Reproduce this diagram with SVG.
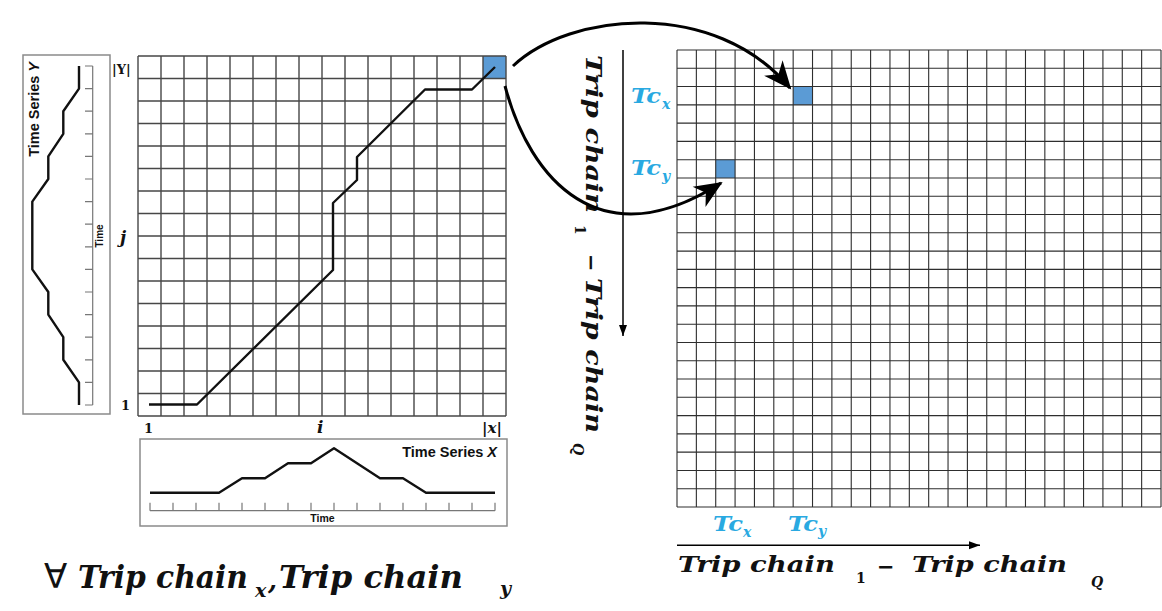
<svg xmlns="http://www.w3.org/2000/svg" width="1162" height="611" viewBox="0 0 1162 611">
<style>
.box{fill:none;stroke:#8a8a8a;stroke-width:1.5}
.ax{fill:none;stroke:#777;stroke-width:1.2}
.curve{fill:none;stroke:#111;stroke-width:2.4;stroke-linejoin:round}
.lg{fill:none;stroke:#474747;stroke-width:1.4}
.rg{fill:none;stroke:#2e2e2e;stroke-width:1.1}
.cell{fill:#5b9bd5}
.sans{font-family:"Liberation Sans",Arial,sans-serif;font-weight:bold;fill:#111}
.ser{font-family:"DejaVu Serif","Liberation Serif",serif;font-weight:bold;font-style:italic;fill:#111}
.num{font-family:"DejaVu Serif","Liberation Serif",serif;font-weight:bold;fill:#111}
.tc{font-family:"DejaVu Serif","Liberation Serif",serif;font-weight:bold;font-style:italic;fill:#29a9e1}
.big{fill:none;stroke:#000;stroke-width:3}
.thin{fill:none;stroke:#000;stroke-width:1.5}
</style>
<defs>
<marker id="bigHead" markerUnits="userSpaceOnUse" markerWidth="30" markerHeight="26" refX="26" refY="13" orient="auto">
<path d="M0,1 L28,13 L0,25 L8,13 Z" fill="#000"/>
</marker>
<marker id="thinHead" markerUnits="userSpaceOnUse" markerWidth="12" markerHeight="10" refX="11" refY="5" orient="auto">
<path d="M0,1 L11,5 L0,9 Z" fill="#000"/>
</marker>
</defs>
<rect width="1162" height="611" fill="#fff"/>

<g id="time-series-y">
<rect class="box" x="23" y="55" width="87" height="359"/>
<path class="ax" d="M92.7,66 V405 M85,66 H92.7 M85,88.6 H92.7 M85,111.2 H92.7 M85,133.8 H92.7 M85,156.4 H92.7 M85,179 H92.7 M85,201.6 H92.7 M85,224.2 H92.7 M85,246.8 H92.7 M85,269.4 H92.7 M85,292 H92.7 M85,314.6 H92.7 M85,337.2 H92.7 M85,359.8 H92.7 M85,382.4 H92.7 M85,405 H92.7"/>
<path class="curve" d="M79,66 L79,88.6 L63.3,111.2 L63.3,133.8 L48.3,156.4 L48.3,179 L32.3,201.6 L32.3,269.4 L48.3,292 L48.3,314.6 L63.3,337.2 L63.3,359.8 L79,382.4 L79,405"/>
<text class="sans" font-size="14.5" transform="translate(39,62) rotate(-90)" text-anchor="end">Time Series <tspan font-style="italic">Y</tspan></text>
<text class="sans" font-size="10" transform="translate(103,236) rotate(-90)" text-anchor="middle">Time</text>
</g>

<g id="warping-grid">
<rect class="cell" x="483" y="56" width="23" height="22.5"/>
<path class="lg" d="M138,56 V416 M161,56 V416 M184,56 V416 M207,56 V416 M230,56 V416 M253,56 V416 M276,56 V416 M299,56 V416 M322,56 V416 M345,56 V416 M368,56 V416 M391,56 V416 M414,56 V416 M437,56 V416 M460,56 V416 M483,56 V416 M506,56 V416 M138,56 H506 M138,78.5 H506 M138,101 H506 M138,123.5 H506 M138,146 H506 M138,168.5 H506 M138,191 H506 M138,213.5 H506 M138,236 H506 M138,258.5 H506 M138,281 H506 M138,303.5 H506 M138,326 H506 M138,348.5 H506 M138,371 H506 M138,393.5 H506 M138,416 H506"/>
<path class="curve" d="M149,404.5 L197,404.5 L333,270 L333,203 L357,180 L357,157 L425,89.5 L472,89.5 L495,67"/>
<text class="num" font-size="13" x="112" y="74">|Y|</text>
<text class="ser" font-size="17" x="120" y="243">j</text>
<text class="num" font-size="13" x="121" y="410">1</text>
<text class="num" font-size="13" x="144" y="433">1</text>
<text class="ser" font-size="17" x="317" y="433">i</text>
<text class="ser" font-size="15" x="482" y="433">|x|</text>
</g>

<g id="time-series-x">
<rect class="box" x="140" y="439" width="367" height="87"/>
<path class="ax" d="M150,510.7 H495 M150,502.7 V510.7 M173,502.7 V510.7 M196,502.7 V510.7 M219,502.7 V510.7 M242,502.7 V510.7 M265,502.7 V510.7 M288,502.7 V510.7 M311,502.7 V510.7 M334,502.7 V510.7 M357,502.7 V510.7 M380,502.7 V510.7 M403,502.7 V510.7 M426,502.7 V510.7 M449,502.7 V510.7 M472,502.7 V510.7 M495,502.7 V510.7"/>
<path class="curve" d="M150,492.7 L219,492.7 L242,478.3 L265,478.3 L288,463.3 L311,463.3 L334,448.3 L380,478.3 L403,478.3 L426,492.7 L495,492.7"/>
<text class="sans" font-size="14.5" x="497" y="457" text-anchor="end">Time Series <tspan font-style="italic">X</tspan></text>
<text class="sans" font-size="10.5" x="322.5" y="522" text-anchor="middle">Time</text>
</g>

<g id="label-left">
<text font-family="DejaVu Sans,sans-serif" font-size="34" x="44" y="588" fill="#111">∀</text>
<text class="ser" font-size="31" x="78" y="588" textLength="170" lengthAdjust="spacingAndGlyphs">Trip chain</text>
<text class="ser" font-size="19" x="255" y="597">x</text>
<text class="ser" font-size="26" x="268" y="589">,</text>
<text class="ser" font-size="31" x="279" y="588" textLength="184" lengthAdjust="spacingAndGlyphs">Trip chain</text>
<text class="ser" font-size="19" x="500" y="595">y</text>
</g>

<g id="similarity-matrix">
<rect class="cell" x="793.16" y="86.56" width="19.36" height="18.28"/>
<rect class="cell" x="715.72" y="159.68" width="19.36" height="18.28"/>
<path class="rg" d="M677,50 V507 M696.36,50 V507 M715.72,50 V507 M735.08,50 V507 M754.44,50 V507 M773.8,50 V507 M793.16,50 V507 M812.52,50 V507 M831.88,50 V507 M851.24,50 V507 M870.6,50 V507 M889.96,50 V507 M909.32,50 V507 M928.68,50 V507 M948.04,50 V507 M967.4,50 V507 M986.76,50 V507 M1006.12,50 V507 M1025.48,50 V507 M1044.84,50 V507 M1064.2,50 V507 M1083.56,50 V507 M1102.92,50 V507 M1122.28,50 V507 M1141.64,50 V507 M1161,50 V507 M677,50 H1161 M677,68.28 H1161 M677,86.56 H1161 M677,104.84 H1161 M677,123.12 H1161 M677,141.4 H1161 M677,159.68 H1161 M677,177.96 H1161 M677,196.24 H1161 M677,214.52 H1161 M677,232.8 H1161 M677,251.08 H1161 M677,269.36 H1161 M677,287.64 H1161 M677,305.92 H1161 M677,324.2 H1161 M677,342.48 H1161 M677,360.76 H1161 M677,379.04 H1161 M677,397.32 H1161 M677,415.6 H1161 M677,433.88 H1161 M677,452.16 H1161 M677,470.44 H1161 M677,488.72 H1161 M677,507 H1161"/>
<text class="tc" font-size="20" x="631" y="103" textLength="30" lengthAdjust="spacingAndGlyphs">Tc</text>
<text class="tc" font-size="14" x="662" y="109">x</text>
<text class="tc" font-size="20" x="631" y="175" textLength="30" lengthAdjust="spacingAndGlyphs">Tc</text>
<text class="tc" font-size="14" x="662" y="181">y</text>
<text class="tc" font-size="20" x="713" y="531" textLength="30" lengthAdjust="spacingAndGlyphs">Tc</text>
<text class="tc" font-size="14" x="743" y="537">x</text>
<text class="tc" font-size="20" x="788" y="531" textLength="30" lengthAdjust="spacingAndGlyphs">Tc</text>
<text class="tc" font-size="14" x="818" y="536">y</text>
</g>

<g id="axis-labels">
<text class="ser" font-size="22" x="678" y="572" textLength="157" lengthAdjust="spacingAndGlyphs">Trip chain</text>
<text class="num" font-size="14" x="856" y="583">1</text>
<text class="num" font-size="21" x="877" y="574">−</text>
<text class="ser" font-size="22" x="912" y="572" textLength="155" lengthAdjust="spacingAndGlyphs">Trip chain</text>
<text class="ser" font-size="14" x="1091" y="587">Q</text>
<g transform="translate(586,55) rotate(90)">
<text class="ser" font-size="22" x="0" y="0" textLength="158" lengthAdjust="spacingAndGlyphs">Trip chain</text>
<text class="num" font-size="14" x="170" y="11">1</text>
<text class="num" font-size="21" x="199" y="2">−</text>
<text class="ser" font-size="22" x="223" y="0" textLength="155" lengthAdjust="spacingAndGlyphs">Trip chain</text>
<text class="ser" font-size="14" x="388" y="13">Q</text>
</g>
</g>

<g id="connectors">
<path class="thin" d="M677,545.3 H980" marker-end="url(#thinHead)"/>
<path class="thin" d="M623,50 V336" marker-end="url(#thinHead)"/>
<path class="big" d="M513,66 C570,12 715,-2 790,88" marker-end="url(#bigHead)"/>
<path class="big" d="M505,86 C530,180 600,260 721,183" marker-end="url(#bigHead)"/>
</g>
</svg>
